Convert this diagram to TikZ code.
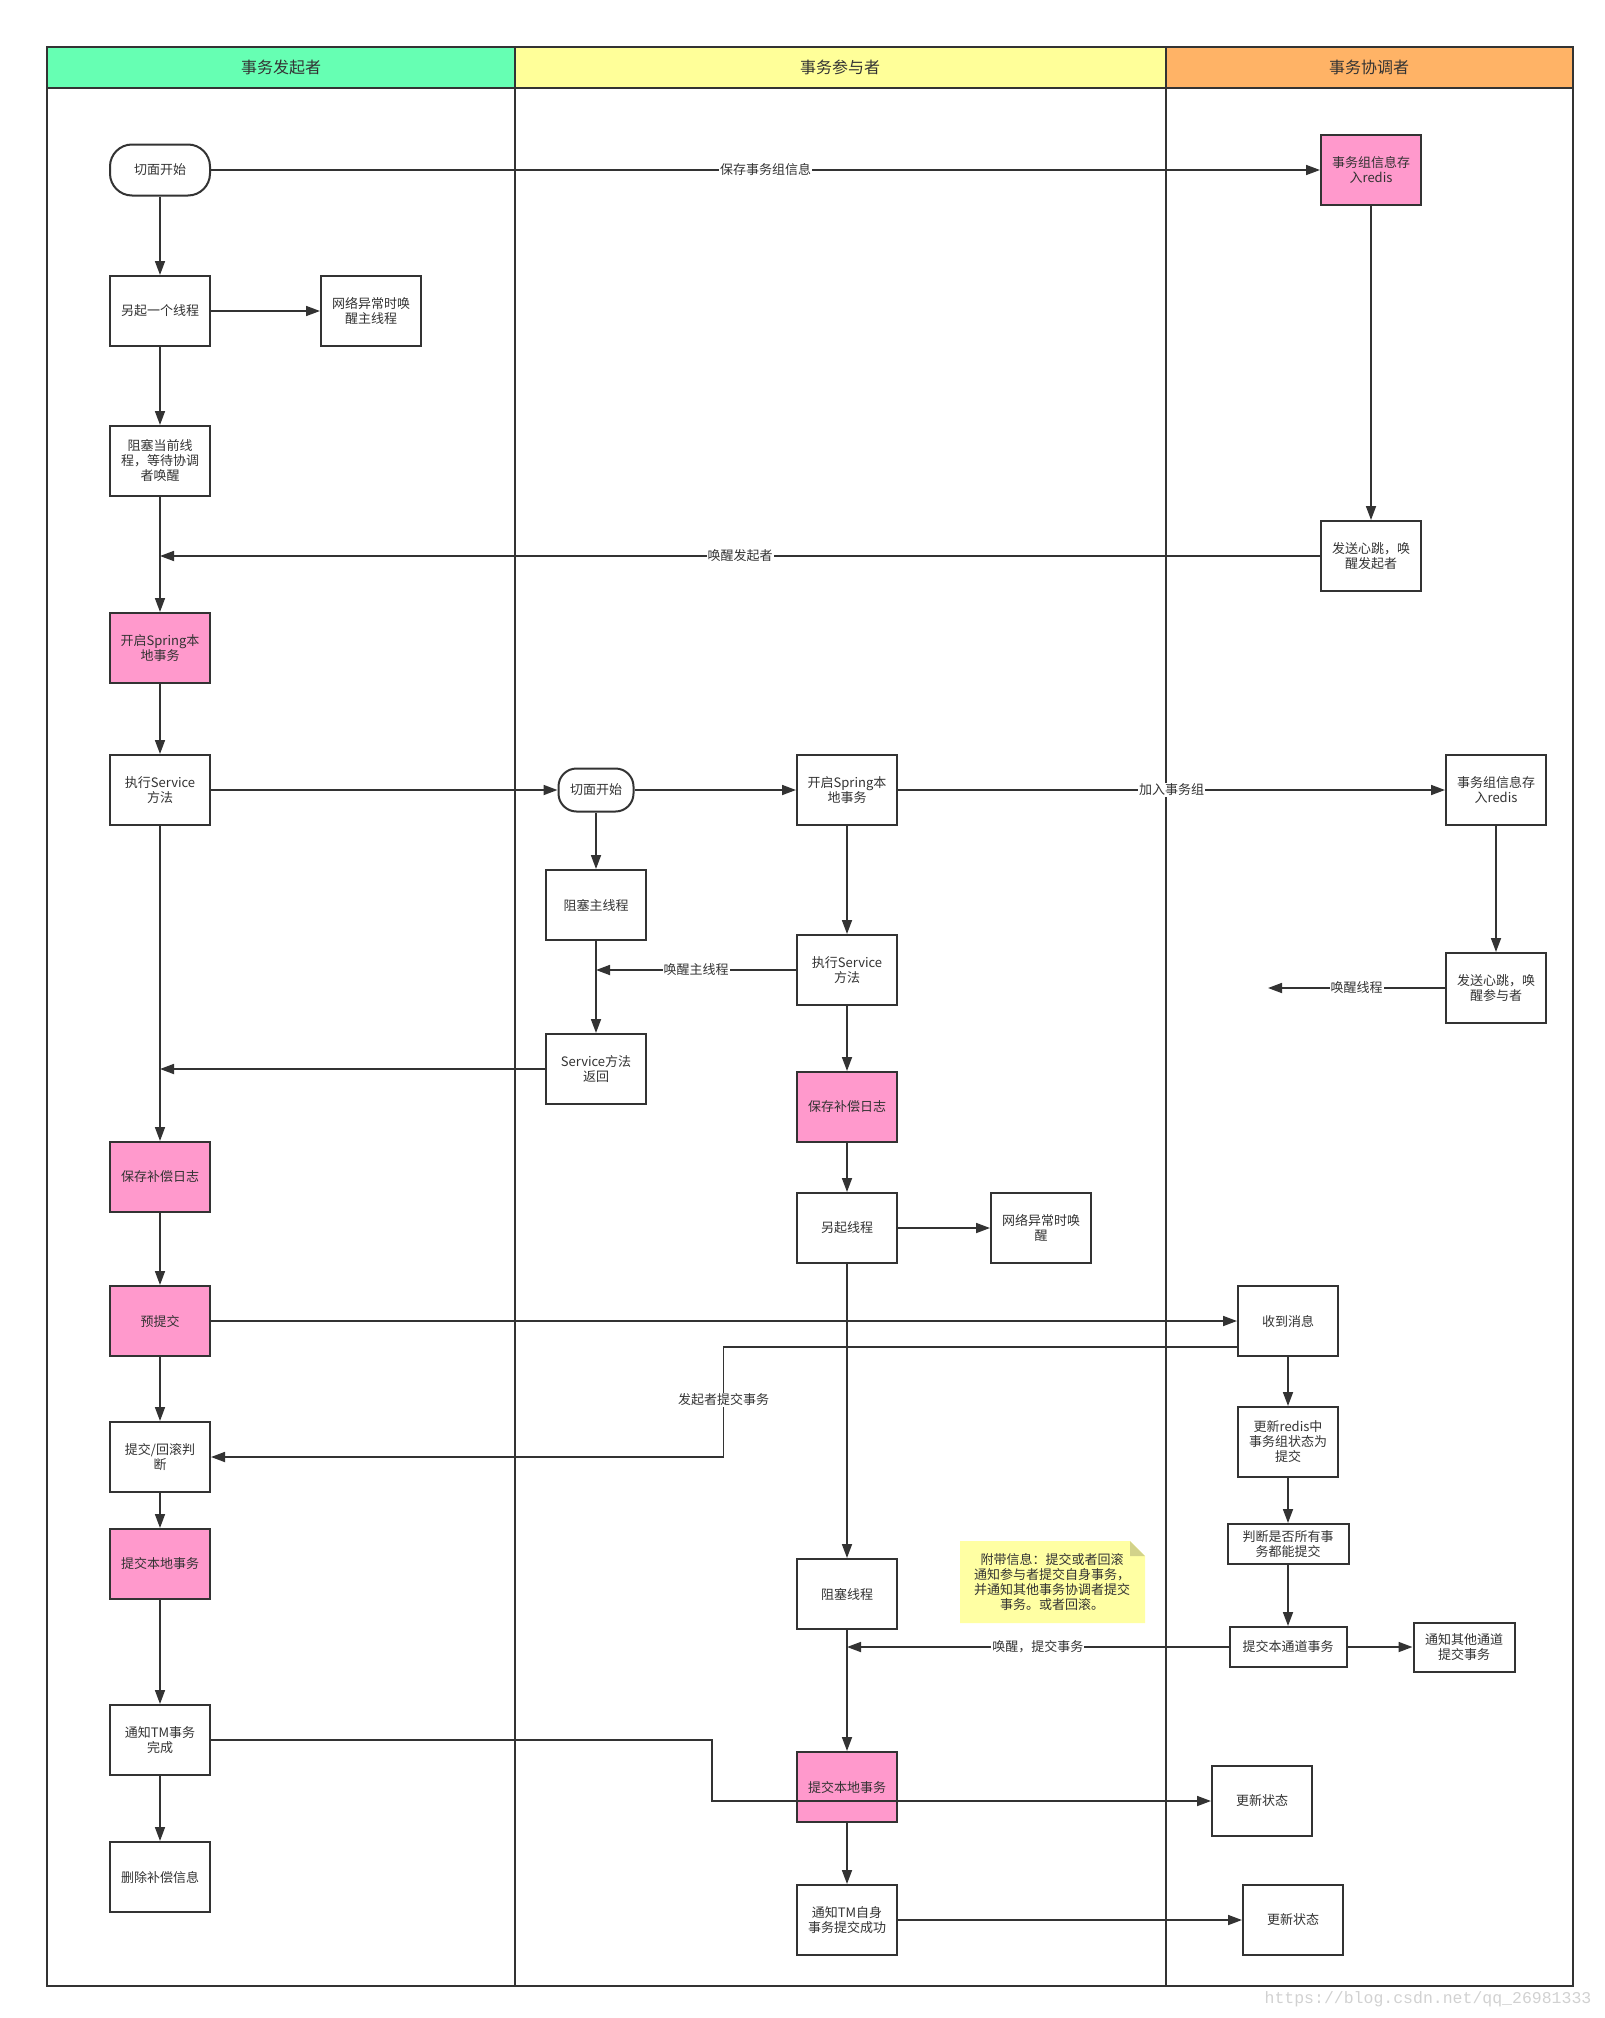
\documentclass[tikz,border=0pt]{standalone}
\usepackage{fontspec}
\setmainfont{Noto Sans CJK SC}
\newfontfamily\wmfont{Liberation Mono}
\usetikzlibrary{arrows.meta}
\usetikzlibrary{calc}

\definecolor{inkgray}{HTML}{333333}
\definecolor{hdgreen}{HTML}{66FFB3}
\definecolor{hdyellow}{HTML}{FFFF99}
\definecolor{hdorange}{HTML}{FFB366}
\definecolor{boxpink}{HTML}{FF99CC}
\definecolor{notefill}{HTML}{FFFFA3}
\definecolor{notefold}{HTML}{D2D28A}

\begin{document}
\begin{tikzpicture}[x=1pt, y=-1pt,
  font=\fontsize{13}{15}\selectfont,
  lane/.style={draw=inkgray, line width=2.2pt},
  box/.style={draw=inkgray, line width=2pt, fill=white, minimum width=100pt, minimum height=70pt, align=center, inner sep=2pt, text=inkgray},
  pinkbox/.style={box, fill=boxpink},
  term/.style={box, rounded corners=22pt, minimum height=51pt},
  flow/.style={draw=inkgray, line width=1.7pt, -{Triangle[length=14pt, width=10pt]}},
  lbl/.style={fill=white, inner sep=1pt, text=inkgray}]

\useasboundingbox (0,0) rectangle (1604,2018);

% swimlanes
\draw[lane, fill=hdgreen] (47,47) rectangle (515,88);
\draw[lane, fill=hdyellow] (515,47) rectangle (1166,88);
\draw[lane, fill=hdorange] (1166,47) rectangle (1573,88);
\draw[lane] (47,88) rectangle (515,1986);
\draw[lane] (515,88) rectangle (1166,1986);
\draw[lane] (1166,88) rectangle (1573,1986);
\node[font=\fontsize{16}{18}\selectfont, text=inkgray] (hd1) at (281,67.5) {事务发起者};
\node[font=\fontsize{16}{18}\selectfont, text=inkgray] (hd2) at (840,67.5) {事务参与者};
\node[font=\fontsize{16}{18}\selectfont, text=inkgray] (hd3) at (1369,67.5) {事务协调者};

% initiator
\node[term] (s1) at (160,170) {切面开始};
\node[box] (t1) at (160,311) {另起一个线程};
\node[box] (w1) at (371,311) {网络异常时唤\\醒主线程};
\node[box] (b1) at (160,461) {阻塞当前线\\程，等待协调\\者唤醒};
\node[pinkbox] (sp1) at (160,648) {开启Spring本\\地事务};
\node[box] (ex1) at (160,790) {执行Service\\方法};
\node[pinkbox] (lg1) at (160,1177) {保存补偿日志};
\node[pinkbox] (pc1) at (160,1321) {预提交};
\node[box] (jd1) at (160,1457) {提交/回滚判\\断};
\node[pinkbox] (cm1) at (160,1564) {提交本地事务};
\node[box] (tm1) at (160,1740) {通知TM事务\\完成};
\node[box] (dl1) at (160,1877) {删除补偿信息};

% participant
\node[term, minimum width=75pt, minimum height=43pt, rounded corners=18pt] (s2) at (596,790) {切面开始};
\node[box] (sp2) at (847,790) {开启Spring本\\地事务};
\node[box] (bk2) at (596,905) {阻塞主线程};
\node[box] (ex2) at (847,970) {执行Service\\方法};
\node[box] (rt2) at (596,1069) {Service方法\\返回};
\node[pinkbox] (lg2) at (847,1107) {保存补偿日志};
\node[box] (t2) at (847,1228) {另起线程};
\node[box] (w2) at (1041,1228) {网络异常时唤\\醒};
\node[box] (bt2) at (847,1594) {阻塞线程};
\node[pinkbox] (cm2) at (847,1787) {提交本地事务};
\node[box] (tm2) at (847,1920) {通知TM自身\\事务提交成功};

% coordinator
\node[pinkbox] (rd1) at (1371,170) {事务组信息存\\入redis};
\node[box] (hb1) at (1371,556) {发送心跳，唤\\醒发起者};
\node[box] (rd2) at (1496,790) {事务组信息存\\入redis};
\node[box] (hb2) at (1496,988) {发送心跳，唤\\醒参与者};
\node[box] (rc3) at (1288,1321) {收到消息};
\node[box] (up3) at (1288,1442) {更新redis中\\事务组状态为\\提交};
\node[box, minimum width=121pt, minimum height=40pt] (ck3) at (1288,1544) {判断是否所有事\\务都能提交};
\node[box, minimum width=117pt, minimum height=40pt] (cc3) at (1288,1647) {提交本通道事务};
\node[box, minimum width=101pt, minimum height=49pt] (on3) at (1464,1647) {通知其他通道\\提交事务};
\node[box] (us1) at (1262,1801) {更新状态};
\node[box] (us2) at (1293,1920) {更新状态};

\fill[notefill] (960,1541) -- (1130,1541) -- (1145,1556) -- (1145,1623) -- (960,1623) -- cycle;
\fill[notefold] (1130,1541) -- (1130,1556) -- (1145,1556) -- cycle;
\node[align=center, text=inkgray] (note) at (1052,1582) {附带信息：提交或者回滚\\通知参与者提交自身事务，\\并通知其他事务协调者提交\\事务。或者回滚。};

\coordinate (wk) at (1268,988);
\coordinate (bend) at (723.5,1400);
\coordinate (jog) at (712,1770);

\draw[flow] (s1) -- (t1);
\draw[flow] (t1) -- (w1);
\draw[flow] (t1) -- (b1);
\draw[flow] (b1) -- (sp1);
\draw[flow] (sp1) -- (ex1);
\draw[flow] (ex1) -- (lg1);
\draw[flow] (lg1) -- (pc1);
\draw[flow] (pc1) -- (jd1);
\draw[flow] (jd1) -- (cm1);
\draw[flow] (cm1) -- (tm1);
\draw[flow] (tm1) -- (dl1);
\draw[flow] (s1) -- node[lbl] {保存事务组信息} (rd1);
\draw[flow] (rd1) -- (hb1);
\draw[flow] (hb1) -- node[lbl] {唤醒发起者} (hb1.west -| b1);
\draw[flow] (ex1) -- (s2);
\draw[flow] (s2) -- (sp2);
\draw[flow] (sp2) -- node[lbl] {加入事务组} (rd2);
\draw[flow] (s2) -- (bk2);
\draw[flow] (bk2) -- (rt2);
\draw[flow] (sp2) -- (ex2);
\draw[flow] (ex2) -- node[lbl] {唤醒主线程} (ex2.west -| bk2);
\draw[flow] (rt2) -- (rt2.west -| ex1);
\draw[flow] (ex2) -- (lg2);
\draw[flow] (lg2) -- (t2);
\draw[flow] (t2) -- (w2);
\draw[flow] (t2) -- (bt2);
\draw[flow] (bt2) -- (cm2);
\draw[flow] (cm2) -- (tm2);
\draw[flow] (rd2) -- (hb2);
\draw[flow] (hb2) -- node[lbl] {唤醒线程} (wk);
\draw[flow] (pc1) -- (rc3);
\draw[flow] ([yshift=10pt]rc3.south west) -| (bend) node[lbl] {发起者提交事务} |- (jd1.east);
\draw[flow] (rc3) -- (up3);
\draw[flow] (up3) -- (ck3);
\draw[flow] (ck3) -- (cc3);
\draw[flow] (cc3) -- (on3);
\draw[flow] (cc3) -- node[lbl] {唤醒，提交事务} (cc3.west -| bt2);
\draw[flow] (tm1) -| (jog) |- (us1.west);
\draw[flow] (tm2) -- (us2);

\node[font=\wmfont\fontsize{16.5}{18}\selectfont, text=black!18] (wm) at (1428,1999) {https://blog.csdn.net/qq\_26981333};

\end{tikzpicture}
\end{document}
